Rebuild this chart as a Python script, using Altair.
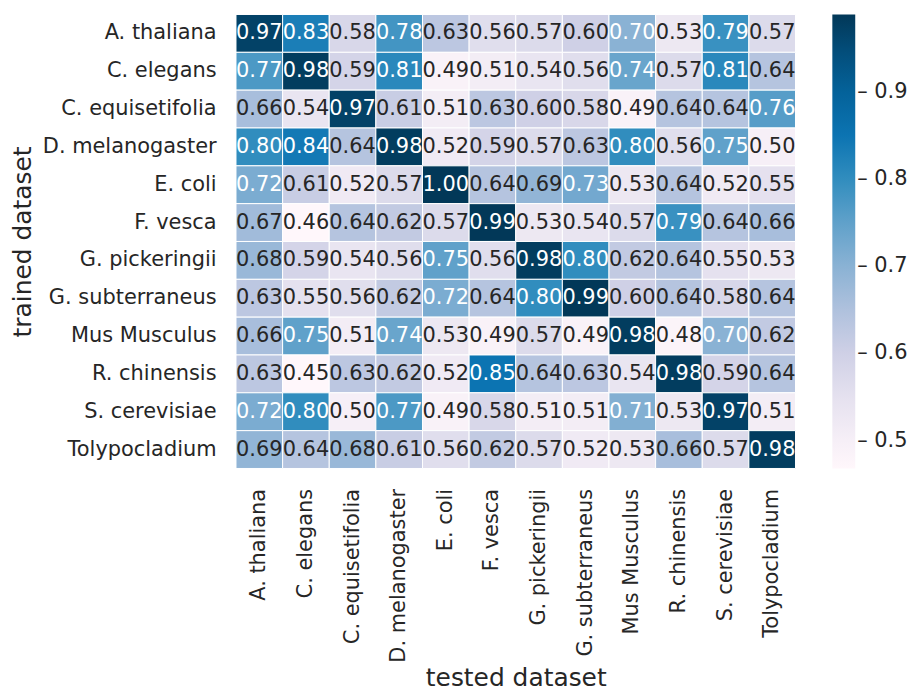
import altair as alt
import pandas as pd

datasets = ["A. thaliana", "C. elegans", "C. equisetifolia", "D. melanogaster", "E. coli",
            "F. vesca", "G. pickeringii", "G. subterraneus", "Mus Musculus", "R. chinensis",
            "S. cerevisiae", "Tolypocladium"]

values = [
    [0.97, 0.83, 0.58, 0.78, 0.63, 0.56, 0.57, 0.60, 0.70, 0.53, 0.79, 0.57],
    [0.77, 0.98, 0.59, 0.81, 0.49, 0.51, 0.54, 0.56, 0.74, 0.57, 0.81, 0.64],
    [0.66, 0.54, 0.97, 0.61, 0.51, 0.63, 0.60, 0.58, 0.49, 0.64, 0.64, 0.76],
    [0.80, 0.84, 0.64, 0.98, 0.52, 0.59, 0.57, 0.63, 0.80, 0.56, 0.75, 0.50],
    [0.72, 0.61, 0.52, 0.57, 1.00, 0.64, 0.69, 0.73, 0.53, 0.64, 0.52, 0.55],
    [0.67, 0.46, 0.64, 0.62, 0.57, 0.99, 0.53, 0.54, 0.57, 0.79, 0.64, 0.66],
    [0.68, 0.59, 0.54, 0.56, 0.75, 0.56, 0.98, 0.80, 0.62, 0.64, 0.55, 0.53],
    [0.63, 0.55, 0.56, 0.62, 0.72, 0.64, 0.80, 0.99, 0.60, 0.64, 0.58, 0.64],
    [0.66, 0.75, 0.51, 0.74, 0.53, 0.49, 0.57, 0.49, 0.98, 0.48, 0.70, 0.62],
    [0.63, 0.45, 0.63, 0.62, 0.52, 0.85, 0.64, 0.63, 0.54, 0.98, 0.59, 0.64],
    [0.72, 0.80, 0.50, 0.77, 0.49, 0.58, 0.51, 0.51, 0.71, 0.53, 0.97, 0.51],
    [0.69, 0.64, 0.68, 0.61, 0.56, 0.62, 0.57, 0.52, 0.53, 0.66, 0.57, 0.98],
]

legend_ticks = [0.5, 0.6, 0.7, 0.8, 0.9]

# matplotlib PuBu colormap stops
pubu = ["#fff7fb", "#ece7f2", "#d0d1e6", "#a6bddb", "#74a9cf",
        "#3690c0", "#0570b0", "#045a8d", "#023858"]
vmin, vmax = 0.468, 0.989
dom = [vmin + k * (vmax - vmin) / (len(pubu) - 1) for k in range(len(pubu))]

records = []
for i, tr in enumerate(datasets):
    for j, te in enumerate(datasets):
        records.append({"trained": tr, "tested": te, "value": values[i][j]})
df = pd.DataFrame(records)

FONT = "DejaVu Sans"
INK = "#262626"

base = alt.Chart(df).encode(
    x=alt.X("tested:N", sort=datasets, title="tested dataset",
            scale=alt.Scale(paddingInner=0, paddingOuter=0),
            axis=alt.Axis(labelAngle=-90, labelFontSize=21, titleFontSize=25,
                          labelFont=FONT, titleFont=FONT, ticks=False, domain=False,
                          labelPadding=20, titlePadding=3, titleFontWeight="normal",
                          labelColor=INK, titleColor=INK)),
    y=alt.Y("trained:N", sort=datasets, title="trained dataset",
            scale=alt.Scale(paddingInner=0, paddingOuter=0),
            axis=alt.Axis(labelFontSize=21, titleFontSize=25, labelFont=FONT, titleFont=FONT,
                          ticks=False, domain=False, labelPadding=20, titlePadding=7,
                          titleFontWeight="normal", labelColor=INK, titleColor=INK)),
)

heat = base.mark_rect(stroke="white", strokeWidth=1).encode(
    color=alt.Color("value:Q",
                    scale=alt.Scale(domain=dom, range=pubu, interpolate="rgb", clamp=True),
                    legend=alt.Legend(title=None, values=legend_ticks, format=".1f",
                                      labelExpr="'– ' + datum.label",
                                      gradientLength=456, gradientThickness=23,
                                      gradientStrokeWidth=0,
                                      labelFontSize=21, labelFont=FONT, labelColor=INK,
                                      offset=37, labelOffset=2))
)

text = base.mark_text(fontSize=21, font=FONT).encode(
    text=alt.Text("value:Q", format=".2f"),
    color=alt.condition(alt.datum.value >= 0.70, alt.value("white"), alt.value(INK)),
)

chart = (heat + text).properties(
    width=562, height=456,
    padding={"left": 2, "top": 4, "right": 0, "bottom": 0},
).configure_view(stroke=None)

chart.save("out.html", embed_options={"renderer": "svg", "actions": False})
